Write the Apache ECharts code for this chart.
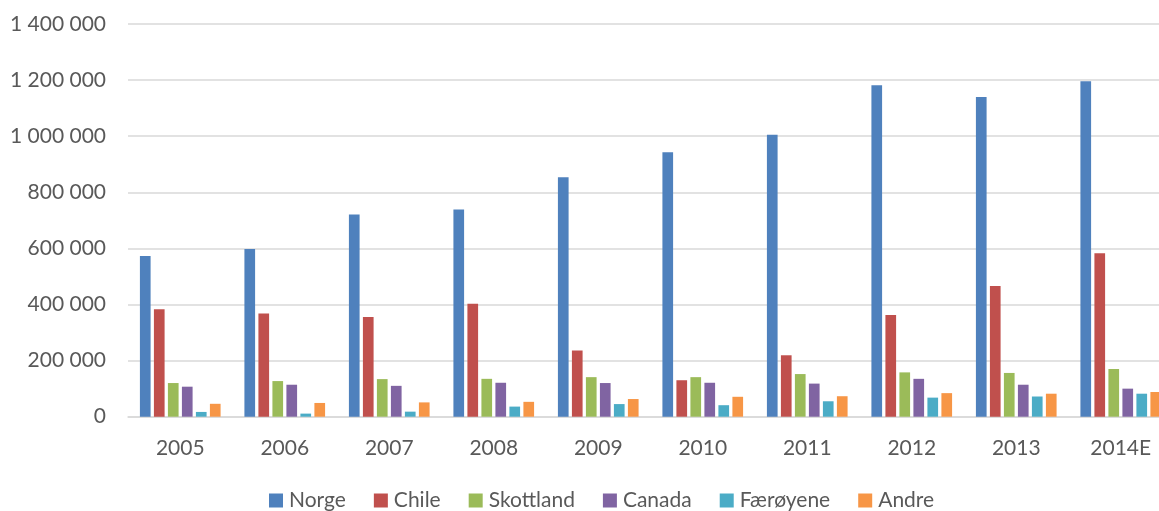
<!DOCTYPE html>
<html>
<head>
<meta charset="utf-8">
<script src="https://cdn.jsdelivr.net/npm/echarts@6/dist/echarts.min.js"></script>
<style>
html,body{margin:0;padding:0;background:#fff;}
#chart{width:1159px;height:511px;}
</style>
</head>
<body>
<div id="chart"></div>
<script>
const categories = ['2005','2006','2007','2008','2009','2010','2011','2012','2013','2014E'];
const norge     = [573000, 598000, 721000, 739000, 854000, 943000, 1005000, 1182000, 1140000, 1196000];
const chile     = [383000, 368000, 355000, 403000, 236000, 130000, 219000, 363000, 466000, 583000];
const skottland = [120000, 127000, 134000, 135000, 141000, 141000, 152000, 158000, 156000, 170000];
const canada    = [107000, 114000, 110000, 121000, 120000, 121000, 118000, 135000, 114000, 100000];
const faeroyene = [17000, 11000, 18000, 36000, 45000, 41000, 55000, 68000, 72000, 82000];
const andre     = [46000, 49000, 51000, 53000, 63000, 71000, 73000, 84000, 82000, 88000];
const seriesNames = ['Norge','Chile','Skottland','Canada','Færøyene','Andre'];

const colors = ['#4F81BD','#C0504D','#9BBB59','#8064A2','#4BACC6','#F79646'];
const dataSets = [norge, chile, skottland, canada, faeroyene, andre];
const FONT = 'Lato';

function fmt(v){
  return String(v).replace(/\B(?=(\d{3})+(?!\d))/g, ' ');
}

const chart = echarts.init(document.getElementById('chart'), null, {renderer:'canvas'});
chart.setOption({
  animation:false,
  color: colors,
  textStyle:{fontFamily:FONT},
  grid:{left:128, top:24, width:1045, bottom:94.3, containLabel:false, outerBoundsMode:'none'},
  legend:{
    data: seriesNames,
    top: 490,
    left: 269,
    padding: 0,
    icon:'rect',
    itemWidth:14,
    itemHeight:14,
    itemGap:28,
    textStyle:{fontFamily:FONT, fontSize:21, lineHeight:21, color:'#595959', padding:[0,0,0,1]}
  },
  xAxis:{
    type:'category',
    data:categories,
    axisLine:{lineStyle:{color:'#d9d9d9', width:1.5}},
    axisTick:{show:false},
    axisLabel:{fontFamily:FONT, fontSize:21, color:'#595959', margin:21}
  },
  yAxis:{
    type:'value',
    min:0, max:1400000, interval:200000,
    axisLine:{show:false},
    axisTick:{show:false},
    splitLine:{lineStyle:{color:'#d9d9d9', width:1.5}},
    axisLabel:{fontFamily:FONT, fontSize:21, color:'#595959', margin:22, formatter: fmt}
  },
  series: seriesNames.map((n,i)=>({
    name:n,
    type:'bar',
    data:dataSets[i],
    barGap:'31%',
    barCategoryGap:'22.8%',
    itemStyle:{color:colors[i]}
  }))
});
</script>
</body>
</html>
